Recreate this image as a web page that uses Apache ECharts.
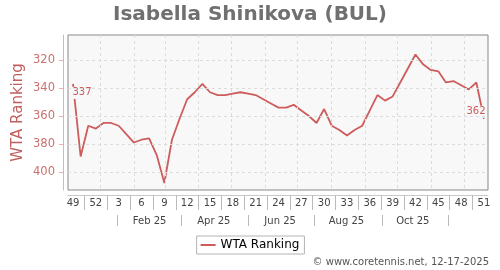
<!DOCTYPE html>
<html><head><meta charset="utf-8">
<script src="https://cdn.jsdelivr.net/npm/echarts@6/dist/echarts.min.js"></script>
<style>html,body{margin:0;padding:0;background:#fff}#c{width:500px;height:270px}</style>
</head><body><div id="c"></div>
<script>
// week numbers (Dec 2024 -> Dec 2025)
const weeks = ['49','50','51','52','1','2','3','4','5','6','7','8','9','10','11','12','13','14','15','16','17','18','19','20','21','22','23','24','25','26','27','28','29','30','31','32','33','34','35','36','37','38','39','40','41','42','43','44','45','46','47','48','49','50','51'];
// WTA ranking per week
const ranking = [337,389,367,369,365,365,367,373,379,377,376,388,408,377,362,348,343,337,343,345,345,344,343,344,345,348,351,354,354,352,356,360,365,355,367,370,374,370,367,356,345,349,346,336,326,316,323,327,328,336,335,338,341,336,362];
const monthLabels = ['Feb 25','Apr 25','Jun 25','Aug 25','Oct 25'];
const monthLabelMonths = [1,3,5,7,9];
const monthSepMonths = [0,2,4,6,8,10];
const yTicks = [320,340,360,380,400];
const seriesName = 'WTA Ranking';

const DAY = 864e5;
const base = Date.UTC(2024,11,6,12);
const pos = d => (d - base) / (7*DAY);
const monthLinePos = [];
for (let m = 0; m < 12; m++) monthLinePos.push(pos(Date.UTC(2025,m,1)));
const monthLabelPos = monthLabelMonths.map(m => pos(Date.UTC(2025,m,15)));
const monthSepPos = monthSepMonths.map(m => pos(Date.UTC(2025,m,16,12)));
const weekLabelPos = [], weekSepPos = [];
for (let i = 0; i < weeks.length; i += 3) { weekLabelPos.push(i); if (i + 1.5 < weeks.length - 1) weekSepPos.push(i + 1.5); }

const XMIN = -0.66, XMAX = 54.53;
const RED = '#cd5c5c';
const FONT = 'DejaVu Sans';

const data = ranking.map((v, i) => {
  const item = { value: [i, v] };
  if (i === 0) item.label = { show: true, position: 'inside', offset: [9, 9], align: 'center' };
  if (i === ranking.length - 1) item.label = { show: true, position: 'inside', offset: [-8, -7], align: 'center' };
  return item;
});

const chart = echarts.init(document.getElementById('c'), null, { renderer: 'canvas' });
chart.setOption({
  animation: false,
  backgroundColor: '#fff',
  title: { text: 'Isabella Shinikova (BUL)', left: 'center', top: 0,
    textStyle: { fontFamily: FONT, fontSize: 20, fontWeight: 'bold', color: '#707070' } },
  legend: { data: [{ name: seriesName, itemStyle: { color: RED } }], left: 'center', top: 236, icon: 'rect', itemWidth: 15, itemHeight: 2,
    padding: [3, 5, 3, 4], borderColor: '#b4b4b4', borderWidth: 1, borderRadius: 0,
    textStyle: { fontFamily: FONT, fontSize: 12, color: '#000' } },
  graphic: [{ type: 'text', right: 11, top: 257,
    style: { text: '\u00a9 www.coretennis.net, 12-17-2025', font: '10px "DejaVu Sans"', fill: '#555' } }],
  grid: { left: 68, right: 12, top: 35, bottom: 80, show: true, backgroundColor: '#f8f8f8', borderColor: '#888', borderWidth: 1 },
  xAxis: [
    { type: 'value', min: XMIN, max: XMAX, axisLine: { show: false, onZero: false }, axisTick: { show: false },
      axisLabel: { show: false }, splitLine: { show: false } },
    { type: 'value', min: XMIN, max: XMAX, position: 'bottom', offset: 5,
      axisLine: { show: true, onZero: false, lineStyle: { color: '#c8c8c8', width: 1 } },
      axisTick: { show: true, customValues: weekSepPos, length: 15, lineStyle: { color: '#bbb' } },
      axisLabel: { customValues: weekLabelPos, margin: 3, fontFamily: FONT, fontSize: 10, color: '#444',
        formatter: v => weeks[Math.round(v)] },
      splitLine: { show: false } },
    { type: 'value', min: XMIN, max: XMAX, position: 'bottom', offset: 25,
      axisLine: { show: false, onZero: false },
      axisTick: { show: true, customValues: monthSepPos, length: 11, lineStyle: { color: '#bbb' } },
      axisLabel: { customValues: monthLabelPos, margin: 1, fontFamily: FONT, fontSize: 10, color: '#444',
        formatter: v => { let b = 0; monthLabelPos.forEach((p, k) => { if (Math.abs(p - v) < Math.abs(monthLabelPos[b] - v)) b = k; }); return monthLabels[b]; } },
      splitLine: { show: false } }
  ],
  yAxis: { type: 'value', inverse: true, min: 302, max: 413, offset: 5,
    name: 'WTA Ranking', nameLocation: 'middle', nameGap: 37, nameMoveOverlap: false,
    nameTextStyle: { fontFamily: FONT, fontSize: 15, color: '#c25e5e' },
    axisLine: { show: true, onZero: false, lineStyle: { color: '#e3b0b0', width: 1 } },
    axisTick: { show: true, customValues: yTicks, length: 4, lineStyle: { color: '#e3b0b0' } },
    axisLabel: { customValues: yTicks, margin: 8, fontFamily: FONT, fontSize: 11.5, color: '#cd7070' },
    splitLine: { show: false } },
  series: [
    { type: 'line', data: [], xAxisIndex: 0, z: 1, silent: true,
      markLine: { silent: true, symbol: 'none', label: { show: false }, animation: false,
        lineStyle: { color: '#dcdcdc', type: [3, 3], width: 1 },
        data: monthLinePos.map(p => ({ xAxis: p })).concat(yTicks.map(v => ({ yAxis: v }))) } },
    { name: seriesName, type: 'line', xAxisIndex: 0, z: 3, data: data, symbol: 'circle', symbolSize: 0.01, showSymbol: true,
      lineStyle: { color: RED, width: 1.8 }, itemStyle: { color: RED },
      label: { show: false, fontFamily: FONT, fontSize: 10, color: RED, backgroundColor: '#f8f8f8', padding: [1, 1],
        formatter: p => String(p.value[1]) } }
  ]
});
</script></body></html>
